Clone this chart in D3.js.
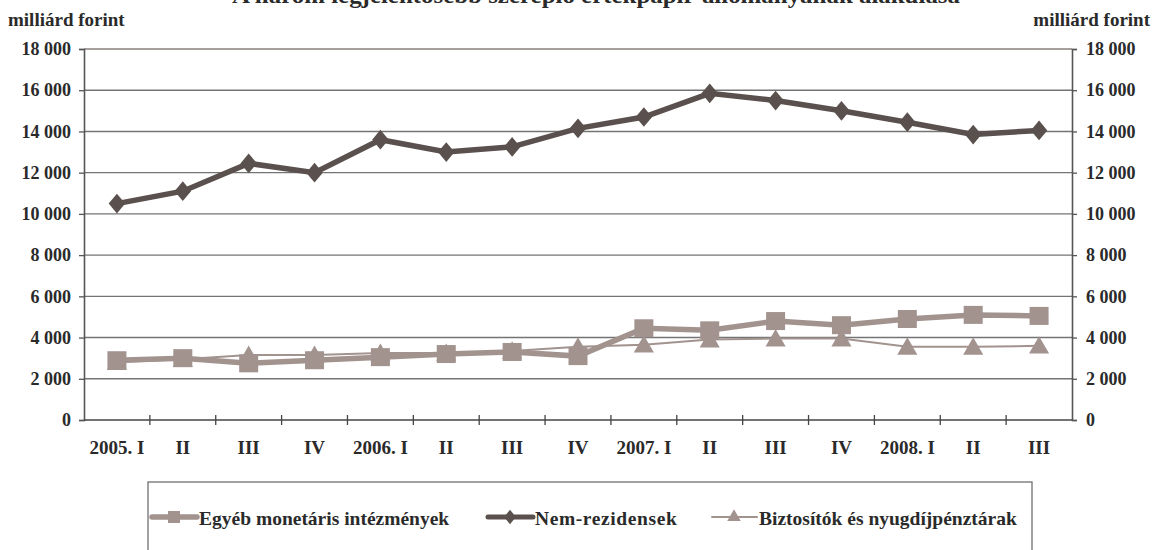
<!DOCTYPE html>
<html>
<head>
<meta charset="utf-8">
<script src="https://cdn.jsdelivr.net/npm/d3@7"></script>
<style>
  body { margin: 0; background: #fff; }
  svg text { font-family: "Liberation Serif", "Times New Roman", serif; font-weight: bold; fill: #2a2a2a; }
</style>
</head>
<body>
<div id="chart"></div>
<script>
const quarters = ['2005. I', 'II', 'III', 'IV', '2006. I', 'II', 'III', 'IV', '2007. I', 'II', 'III', 'IV', '2008. I', 'II', 'III'];
const egyebMonetaris = [2900, 3000, 2750, 2900, 3050, 3200, 3300, 3100, 4450, 4350, 4800, 4600, 4900, 5100, 5050];
const nemRezidensek = [10500, 11100, 12450, 12000, 13600, 13000, 13250, 14150, 14700, 15850, 15500, 15000, 14450, 13850, 14050];
const biztositok = [2800, 2950, 3150, 3150, 3250, 3250, 3350, 3550, 3650, 3900, 3950, 3950, 3550, 3550, 3600];
const yTicks = [0, 2000, 4000, 6000, 8000, 10000, 12000, 14000, 16000, 18000];

const width = 1153, height = 550;
const margin = {top: 49, right: 81, bottom: 130, left: 84};
const innerW = width - margin.left - margin.right;
const innerH = height - margin.top - margin.bottom;

const svg = d3.select('#chart').append('svg')
  .attr('width', width)
  .attr('height', height);

const g = svg.append('g')
  .attr('transform', `translate(${margin.left},${margin.top})`);

const x = d3.scaleBand().domain(d3.range(quarters.length)).range([0, innerW]);
const y = d3.scaleLinear().domain([0, 18000]).range([innerH, 0]);
const cx = i => x(i) + x.bandwidth() / 2;

const fmt = v => d3.format(',')(v).replace(/,/g, ' ');

// title, cut off at the top edge as in the original
svg.append('text')
  .attr('x', 596).attr('y', 3)
  .attr('text-anchor', 'middle')
  .attr('textLength', 728).attr('lengthAdjust', 'spacingAndGlyphs')
  .style('font-size', '23px')
  .text('A három legjelentősebb szereplő értékpapír-állományának alakulása');

svg.append('text').attr('x', 8).attr('y', 26).style('font-size', '19px').text('milliárd forint');
svg.append('text').attr('x', 1150).attr('y', 26).attr('text-anchor', 'end').style('font-size', '19px').text('milliárd forint');

// gridlines
g.append('g').selectAll('line')
  .data(yTicks.filter(d => d > 0))
  .enter().append('line')
  .attr('x1', 0).attr('x2', innerW)
  .attr('y1', d => y(d)).attr('y2', d => y(d))
  .attr('stroke', d => d === 18000 ? '#8a7f7c' : '#747474')
  .attr('stroke-width', 1.4);

const leftAxis = g.append('g')
  .call(d3.axisLeft(y).tickValues(yTicks).tickFormat(fmt).tickSize(5).tickPadding(8));
const rightAxis = g.append('g')
  .attr('transform', `translate(${innerW},0)`)
  .call(d3.axisRight(y).tickValues(yTicks).tickFormat(fmt).tickSize(5).tickPadding(9));
[leftAxis, rightAxis].forEach(a => {
  a.select('.domain').attr('stroke', '#555').attr('stroke-width', 1.6);
  a.selectAll('.tick line').attr('stroke', '#555').attr('stroke-width', 1.3);
  a.selectAll('text').style('font-size', '18px').style('font-family', '"Liberation Serif", serif').attr('fill', '#2a2a2a');
});

// bottom axis
const xb = g.append('g').attr('transform', `translate(0,${innerH})`);
xb.append('line').attr('x1', 0).attr('x2', innerW).attr('stroke', '#444').attr('stroke-width', 1.6);
xb.selectAll('.tk')
  .data(d3.range(1, quarters.length))
  .enter().append('line')
  .attr('x1', i => x(i)).attr('x2', i => x(i))
  .attr('y1', -5).attr('y2', 5)
  .attr('stroke', '#444').attr('stroke-width', 1.3);
xb.selectAll('.lbl')
  .data(quarters)
  .enter().append('text')
  .attr('x', (d, i) => cx(i))
  .attr('y', 34)
  .attr('text-anchor', 'middle')
  .style('font-size', '19px')
  .text(d => d);

const line = d3.line().x((d, i) => cx(i)).y(d => y(d));

const colLight = '#a2938f';
const colDark = '#5a504d';

// Biztosítók
g.append('path').datum(biztositok).attr('d', line)
  .attr('fill', 'none').attr('stroke', colLight).attr('stroke-width', 2);
const tri = d3.symbol().type(d3.symbolTriangle).size(175);
g.selectAll('.tri').data(biztositok).enter().append('path')
  .attr('d', tri).attr('fill', colLight)
  .attr('transform', (d, i) => `translate(${cx(i)},${y(d) + 2})`);

// Egyéb monetáris
g.append('path').datum(egyebMonetaris).attr('d', line)
  .attr('fill', 'none').attr('stroke', colLight).attr('stroke-width', 5.5);
g.selectAll('.sq').data(egyebMonetaris).enter().append('rect')
  .attr('x', (d, i) => cx(i) - 9.5).attr('y', d => y(d) - 9)
  .attr('width', 19).attr('height', 18)
  .attr('fill', colLight);

// Nem-rezidensek
g.append('path').datum(nemRezidensek).attr('d', line)
  .attr('fill', 'none').attr('stroke', colDark).attr('stroke-width', 5.5);
const dia = d3.symbol().type(d3.symbolDiamond).size(112);
g.selectAll('.dia').data(nemRezidensek).enter().append('path')
  .attr('d', dia).attr('fill', colDark)
  .attr('transform', (d, i) => `translate(${cx(i)},${y(d)}) scale(1.45,1)`);

// legend
const lg = svg.append('g');
lg.append('rect').attr('x', 148).attr('y', 482).attr('width', 884).attr('height', 90)
  .attr('fill', 'none').attr('stroke', '#7a7a7a').attr('stroke-width', 1.4);

const legendItems = [
  {name: 'Egyéb monetáris intézmények', x: 152, color: colLight, w: 5.5, marker: 'sq'},
  {name: 'Nem-rezidensek', x: 488, color: colDark, w: 5, marker: 'dia'},
  {name: 'Biztosítók és nyugdíjpénztárak', x: 712, color: colLight, w: 2, marker: 'tri'}
];
const ly = 517;
legendItems.forEach(it => {
  lg.append('line').attr('x1', it.x).attr('x2', it.x + 45).attr('y1', ly).attr('y2', ly)
    .attr('stroke', it.color).attr('stroke-width', it.w).attr('stroke-linecap', 'round');
  const mx = it.x + 22;
  if (it.marker === 'sq') {
    lg.append('rect').attr('x', mx - 6).attr('y', ly - 6).attr('width', 12).attr('height', 12).attr('fill', it.color);
  } else if (it.marker === 'dia') {
    lg.append('path').attr('d', d3.symbol().type(d3.symbolDiamond).size(60)).attr('fill', it.color)
      .attr('transform', `translate(${mx},${ly}) scale(1.4,1)`);
  } else {
    lg.append('path').attr('d', d3.symbol().type(d3.symbolTriangle).size(80)).attr('fill', it.color)
      .attr('transform', `translate(${mx},${ly})`);
  }
  lg.append('text').attr('x', it.x + 47).attr('y', ly + 8)
    .style('font-size', '19.5px')
    .style('letter-spacing', it.marker === 'dia' ? '0.6px' : null)
    .text(it.name);
});
</script>
</body>
</html>
